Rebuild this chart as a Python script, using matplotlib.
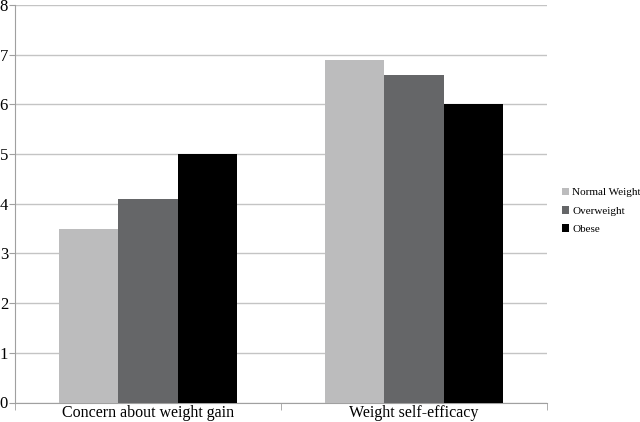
import numpy as np
import matplotlib
matplotlib.use("Agg")
import matplotlib.pyplot as plt

plt.rcParams['font.family'] = ['Liberation Serif', 'DejaVu Serif']

categories = ["Concern about weight gain", "Weight self-efficacy"]
series = ["Normal Weight", "Overweight", "Obese"]
values = {
    "Normal Weight": [3.5, 6.9],
    "Overweight": [4.1, 6.6],
    "Obese": [5.0, 6.0],
}
colors = ["#bcbcbd", "#656668", "#000000"]

fig = plt.figure(figsize=(6.4, 4.22), dpi=100)
ax = fig.add_axes([15 / 640, 19.5 / 422, 532 / 640, 397.5 / 422])

x = np.arange(len(categories))
bar_width = 0.222
for i, name in enumerate(series):
    ax.bar(x + (i - 1) * bar_width, values[name], bar_width, color=colors[i],
           label=name, zorder=3)

ax.set_xlim(-0.5, 1.5)
ax.set_ylim(0, 8)
ax.set_yticks(range(0, 9))
ax.yaxis.grid(True, color="#c4c4c4", linewidth=1, zorder=0)
ax.set_xticks(x)
ax.set_xticklabels(categories, fontsize=11.5)
ax.tick_params(axis="x", length=0, pad=2)
ax.tick_params(axis="y", labelsize=12, length=4, color="#a0a0a0", pad=1)
ax.set_xticks([-0.5, 0.5, 1.5], minor=True)
ax.tick_params(axis="x", which="minor", length=5, color="#a0a0a0")

for side in ["top", "right"]:
    ax.spines[side].set_visible(False)
for side in ["left", "bottom"]:
    ax.spines[side].set_color("#a0a0a0")

ax.legend(loc="center left", bbox_to_anchor=(1.028, 0.482), frameon=False,
          borderpad=0, borderaxespad=0,
          fontsize=8, handlelength=0.65, handleheight=0.65, handletextpad=0.3,
          labelspacing=0.78)

fig.savefig("out.png", dpi=100)
